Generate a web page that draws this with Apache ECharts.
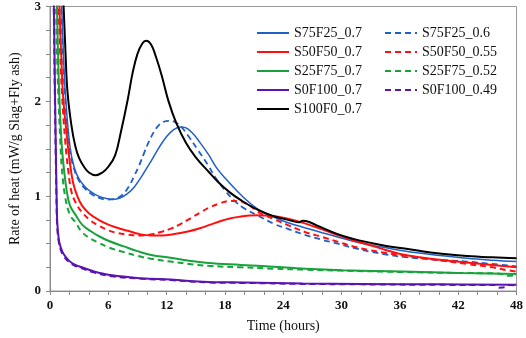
<!DOCTYPE html>
<html>
<head>
<meta charset="utf-8">
<script src="https://cdn.jsdelivr.net/npm/echarts@6/dist/echarts.min.js"></script>
<style>html,body{margin:0;padding:0;background:#fff}#c{width:526px;height:338px}</style>
</head>
<body>
<div id="c"></div>
<script>
// Series data: [time (hours), rate of heat (mW/g)]
const S100F0_07 = [[1.2,3.4],[1.4,3.0],[1.6,2.5],[1.8,2.1],[2.2,1.75],[2.6,1.53],[3.0,1.4],[3.5,1.31],[4.0,1.25],[4.7,1.22],[5.4,1.25],[6.0,1.31],[6.7,1.43],[7.3,1.68],[8.0,2.02],[8.5,2.3],[9.0,2.5],[9.5,2.61],[9.9,2.64],[10.4,2.6],[10.9,2.47],[11.5,2.27],[12.2,2.0],[13.0,1.77],[14.0,1.56],[15.0,1.41],[16.3,1.26],[17.3,1.15],[18.5,1.04],[19.6,0.96],[21.3,0.86],[23.0,0.79],[24.5,0.75],[25.6,0.725],[26.0,0.74],[26.6,0.73],[27.5,0.69],[29.6,0.6],[31.2,0.55],[32.9,0.51],[34.6,0.475],[36.3,0.45],[38,0.425],[39.6,0.40],[42.9,0.37],[45.5,0.355],[48,0.345]];
const S75F25_07 = [[1.05,3.4],[1.2,3.0],[1.4,2.45],[1.6,2.05],[2.06,1.52],[2.5,1.3],[3.0,1.18],[3.6,1.1],[4.3,1.04],[5.0,1.0],[5.8,0.975],[6.5,0.965],[7.2,0.98],[8.0,1.03],[8.7,1.1],[9.5,1.22],[10.4,1.37],[11.2,1.51],[12.0,1.63],[12.7,1.7],[13.4,1.73],[14.0,1.72],[14.7,1.66],[15.4,1.57],[16.3,1.44],[17.2,1.29],[18.2,1.17],[19.2,1.06],[20.2,0.96],[21.3,0.87],[22.2,0.815],[23.0,0.78],[24.5,0.72],[26.3,0.665],[28,0.615],[29.6,0.57],[31.2,0.525],[32.9,0.485],[34.6,0.455],[36.3,0.425],[38,0.4],[39.6,0.38],[42.9,0.345],[45.5,0.325],[48,0.31]];
const S75F25_06 = [[1.0,3.4],[1.15,3.0],[1.35,2.45],[1.55,2.05],[2.0,1.5],[2.5,1.28],[3.0,1.16],[3.6,1.08],[4.3,1.02],[5.0,0.985],[5.8,0.965],[6.5,0.97],[7.4,1.01],[8.1,1.1],[8.7,1.22],[9.2,1.33],[9.7,1.46],[10.2,1.58],[10.7,1.68],[11.2,1.75],[11.7,1.785],[12.3,1.795],[12.9,1.78],[13.5,1.73],[14.2,1.64],[15.2,1.49],[16.3,1.32],[17.0,1.2],[18.0,1.06],[19.0,0.95],[20.0,0.87],[21.3,0.80],[23.0,0.71],[24.6,0.65],[26.3,0.59],[28,0.54],[29.6,0.50],[31.2,0.455],[32.9,0.415],[34.6,0.385],[36.3,0.36],[39.6,0.33],[42.9,0.31],[45.5,0.285],[48,0.26]];
const S50F50_07 = [[0.85,3.4],[0.97,3.0],[1.15,2.5],[1.35,2.05],[1.7,1.67],[2.05,1.35],[2.4,1.13],[2.85,0.99],[3.3,0.9],[4.0,0.82],[5.0,0.75],[6.0,0.7],[7.0,0.665],[8.0,0.635],[9.2,0.6],[10.4,0.585],[11.5,0.585],[12.8,0.6],[14.3,0.63],[15.5,0.665],[16.5,0.7],[17.5,0.735],[18.5,0.765],[19.65,0.785],[20.5,0.795],[21.3,0.80],[22.3,0.795],[23.0,0.79],[24.6,0.76],[26.3,0.71],[28,0.65],[29.6,0.59],[31.2,0.535],[32.9,0.485],[34.6,0.43],[36.3,0.385],[38,0.355],[39.6,0.335],[42.9,0.30],[45.5,0.275],[48,0.25]];
const S50F50_055 = [[0.8,3.4],[0.88,3.0],[1.05,2.5],[1.25,2.05],[1.55,1.6],[1.9,1.25],[2.2,1.05],[2.65,0.93],[3.3,0.83],[4.2,0.74],[5.0,0.69],[6.0,0.64],[7.0,0.61],[8.0,0.595],[9.2,0.585],[10.3,0.595],[11.5,0.625],[12.5,0.66],[13.5,0.71],[14.5,0.77],[15.5,0.83],[16.5,0.885],[17.5,0.925],[18.5,0.95],[19.3,0.95],[20.0,0.93],[20.7,0.89],[21.5,0.83],[22.3,0.79],[23.0,0.76],[24.6,0.69],[26.3,0.62],[28,0.57],[29.6,0.52],[31.2,0.47],[32.9,0.43],[34.6,0.40],[36.3,0.375],[39.6,0.33],[42.9,0.285],[45.5,0.25],[47,0.22],[48,0.205]];
const S25F75_07 = [[0.65,3.4],[0.72,3.0],[0.85,2.4],[1.0,1.95],[1.2,1.55],[1.4,1.32],[1.7,1.07],[2.06,0.9],[2.65,0.8],[3.3,0.7],[4.2,0.63],[5.0,0.58],[6.0,0.53],[7.6,0.47],[9.0,0.42],[10.4,0.38],[12.4,0.35],[14.3,0.32],[16.3,0.295],[19.65,0.275],[23,0.255],[26.3,0.235],[30,0.22],[36.3,0.205],[42,0.19],[48,0.18]];
const S25F75_052 = [[0.55,3.4],[0.62,3.0],[0.75,2.4],[0.9,1.95],[1.05,1.6],[1.2,1.32],[1.55,1.0],[2.06,0.8],[2.65,0.72],[3.3,0.62],[4.2,0.55],[5.0,0.51],[6.0,0.46],[7.6,0.41],[9.0,0.37],[10.4,0.34],[12.4,0.31],[14.3,0.285],[16.3,0.265],[19.65,0.25],[23,0.235],[26.3,0.225],[30,0.215],[36.3,0.2],[42,0.19],[46,0.185],[47.3,0.16],[48,0.18]];
const S0F100_07 = [[0.3,3.4],[0.4,3.0],[0.5,2.2],[0.6,1.5],[0.68,1.0],[0.75,0.72],[0.9,0.55],[1.1,0.46],[1.4,0.39],[2.0,0.315],[2.6,0.275],[3.3,0.25],[4.4,0.21],[6.4,0.165],[9.4,0.135],[12.4,0.12],[16.3,0.095],[20,0.09],[26,0.08],[32,0.075],[40,0.07],[48,0.065]];
const S0F100_049 = [[0.28,3.4],[0.38,3.0],[0.48,2.2],[0.58,1.5],[0.66,1.0],[0.73,0.7],[0.88,0.53],[1.08,0.44],[1.4,0.37],[2.0,0.3],[2.6,0.265],[3.3,0.24],[4.4,0.2],[6.4,0.155],[9.4,0.13],[12.4,0.115],[16.3,0.09],[20,0.085],[26,0.075],[32,0.07],[40,0.065],[45.8,0.063],[46.2,0.035],[46.8,0.04],[47.2,0.062],[48,0.06]];

const solidNames = ['S75F25_0.7','S50F50_0.7','S25F75_0.7','S0F100_0.7','S100F0_0.7'];
const dashedNames = ['S75F25_0.6','S50F50_0.55','S25F75_0.52','S0F100_0.49'];
const xTicks = [0,6,12,18,24,30,36,42,48];
const yTicks = [0,1,2,3];

const BLUE='#1f5fc8', RED='#ff1010', GREEN='#18a23c', PURPLE='#5a14b0', BLACK='#000000';
const serif = '"Liberation Serif","Times New Roman",serif';

function mk(name, data, color, dashed, width) {
  return {
    name, type:'line', data, smooth:0.4, symbol:'none', showSymbol:false, clip:true,
    lineStyle:{color, width: width, type: dashed ? [6,4] : 'solid'},
    itemStyle:{color}, z: dashed ? 2 : 3
  };
}
const legendCommon = {orient:'vertical', top:26, padding:0, itemWidth:32, itemHeight:14, itemGap:5,
  itemStyle:{opacity:0}, textStyle:{fontFamily:serif, fontSize:14, color:'#111'}};

const chart = echarts.init(document.getElementById('c'), null, {renderer:'canvas'});
chart.setOption({
  animation:false,
  backgroundColor:'#fff',
  grid:{left:36,right:8,top:6,bottom:45,show:true,borderColor:'#999',borderWidth:1},
  legend:[
    Object.assign({data:solidNames, left:256}, legendCommon),
    Object.assign({data:dashedNames, left:384}, legendCommon)
  ],
  xAxis:{type:'value', min:xTicks[0], max:xTicks[xTicks.length-1], interval:6,
    name:'Time (hours)', nameLocation:'middle', nameGap:28,
    nameTextStyle:{fontFamily:serif, fontSize:14, color:'#111'},
    axisLine:{lineStyle:{color:'#888'}}, axisTick:{show:true, length:4, lineStyle:{color:'#888'}},
    minorTick:{show:true, splitNumber:3, length:4, lineStyle:{color:'#888'}},
    splitLine:{show:false},
    axisLabel:{fontFamily:serif, fontSize:13, fontWeight:'bold', color:'#111', margin:8}},
  yAxis:{type:'value', min:yTicks[0], max:yTicks[yTicks.length-1], interval:1,
    name:'Rate of heat (mW/g Slag+Fly ash)', nameLocation:'middle', nameGap:28,
    nameTextStyle:{fontFamily:serif, fontSize:14, color:'#111'},
    axisLine:{show:true, lineStyle:{color:'#888'}}, axisTick:{show:true, length:4, lineStyle:{color:'#888'}},
    minorTick:{show:true, splitNumber:4, length:4, lineStyle:{color:'#888'}},
    splitLine:{show:false},
    axisLabel:{fontFamily:serif, fontSize:13, fontWeight:'bold', color:'#111', margin:9}},
  series:[
    mk('S75F25_0.7', S75F25_07, BLUE, false, 1.5),
    mk('S75F25_0.6', S75F25_06, BLUE, true, 1.8),
    mk('S50F50_0.7', S50F50_07, RED, false, 2),
    mk('S50F50_0.55', S50F50_055, RED, true, 2),
    mk('S25F75_0.7', S25F75_07, GREEN, false, 2),
    mk('S25F75_0.52', S25F75_052, GREEN, true, 2),
    mk('S0F100_0.7', S0F100_07, PURPLE, false, 2),
    mk('S0F100_0.49', S0F100_049, PURPLE, true, 2),
    mk('S100F0_0.7', S100F0_07, BLACK, false, 2)
  ]
});
</script>
</body>
</html>
